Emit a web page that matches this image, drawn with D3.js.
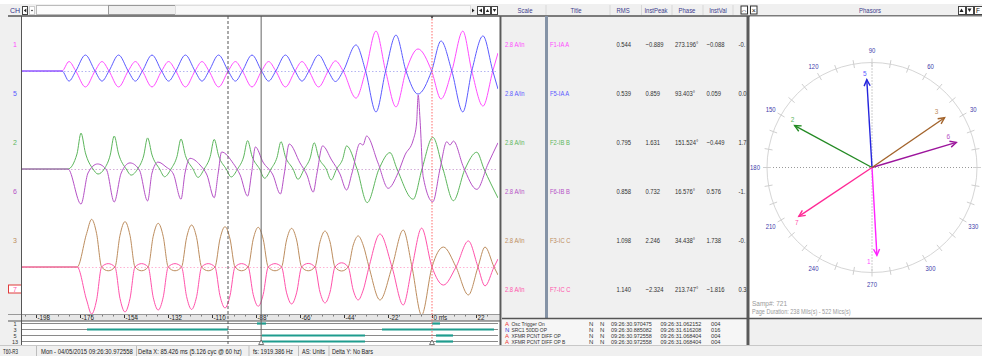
<!DOCTYPE html>
<html><head><meta charset="utf-8">
<script src="https://cdn.jsdelivr.net/npm/d3@7"></script>
<style>
html,body{margin:0;padding:0;background:#fff;overflow:hidden}
svg{display:block;font-family:"Liberation Sans",Arial,sans-serif}
</style></head><body>
<svg id="c" width="982" height="356"></svg>
<script>
// ---------- channel table ----------
const chNames    = ["1","5","2","6","3","7"];
const chTitles   = ["F1-IA A","F5-IA A","F2-IB B","F6-IB B","F3-IC C","F7-IC C"];
const chScales   = ["2.8 A/in","2.8 A/in","2.8 A/in","2.8 A/in","2.8 A/in","2.8 A/in"];
const chRms      = [0.544,0.539,0.795,0.858,1.098,1.140];
const chInstPeak = [-0.889,0.859,1.631,0.732,2.246,-2.324];
const chPhase    = [273.196,93.403,151.524,16.576,34.438,213.747];
const chInstVal  = [-0.088,0.059,-0.449,0.576,1.738,-1.816];
const chNextCol  = ["-0.","0.0","1.7","-1.","-0.","0.3"];

// ---------- analog traces: [time ms, amps] ----------
const ch5Wave = [[-205,0],[-185,0],[-181.5,-0.48],[-178.1,0],
 [-173.3,0.76],[-168.5,0],[-165.0,-0.48],[-161.5,0],
 [-156.7,0.76],[-151.9,0],[-148.3,-0.48],[-144.8,0],
 [-140.0,0.76],[-135.2,0],[-131.7,-0.48],[-128.1,0],
 [-123.3,0.76],[-118.5,0],[-115.0,-0.48],[-111.5,0],
 [-106.7,0.76],[-101.9,0],[-98.3,-0.48],[-94.8,0],
 [-90.0,0.76],[-85.2,0],[-81.7,-0.48],[-78.1,0],
 [-73.3,0.76],[-68.5,0],[-65.0,-0.48],[-61.5,0],
 [-56.7,0.76],[-51.9,0],[-48.3,-0.50],[-44.4,0],
 [-38.0,1.24],[-33.2,0],[-28.0,-1.95],[-23.2,0],[-18.0,1.71],[-13.0,0],[-7.0,-1.10],[-0.2,0],
 [4.5,1.43],[9.9,0],[15.4,-1.95],[19.9,0],[25.5,1.67],[30.4,0],[33,-0.86]];
const ch1Wave = [[-205,0],[-185,0],[-181.5,0.45],[-178.1,0],
 [-173.3,-0.76],[-168.5,0],[-165.0,0.45],[-161.5,0],
 [-156.7,-0.76],[-151.9,0],[-148.3,0.45],[-144.8,0],
 [-140.0,-0.76],[-135.2,0],[-131.7,0.45],[-128.1,0],
 [-123.3,-0.76],[-118.5,0],[-115.0,0.45],[-111.5,0],
 [-106.7,-0.76],[-101.9,0],[-98.3,0.45],[-94.8,0],
 [-90.0,-0.76],[-85.2,0],[-81.7,0.45],[-78.1,0],
 [-73.3,-0.76],[-68.5,0],[-65.0,0.45],[-61.5,0],
 [-56.7,-0.76],[-51.9,0],[-48.3,0.48],[-44.4,0],
 [-38.0,-1.29],[-33.2,0],[-28.0,1.90],[-23.2,0],[-18.0,-1.71],[-13.0,0],[-7.0,1.05],[-0.2,0],
 [4.5,-1.33],[9.9,0],[15.4,1.90],[19.9,0],[25.5,-1.67],[30.4,0],[33,0.86]];
const ch2Wave = [[-205,0],[-182,0],[-177.5,0.72],[-175.5,1.71],[-173.3,0.77],[-169.5,0],[-167.0,-0.24],[-163.9,0],
 [-160.9,0.66],[-158.9,1.57],[-156.7,0.71],[-152.9,0],[-150.4,-0.29],[-147.2,0],
 [-144.2,0.62],[-142.2,1.48],[-140.0,0.67],[-136.2,0],[-133.7,-0.37],[-130.5,0],
 [-127.5,0.60],[-125.5,1.43],[-123.3,0.64],[-119.5,0],[-117.0,-0.40],[-113.9,0],
 [-110.9,0.59],[-108.9,1.41],[-106.7,0.63],[-102.9,0],[-100.4,-0.38],[-97.2,0],
 [-94.2,0.57],[-92.2,1.35],[-90.0,0.61],[-86.2,0],[-83.7,-0.44],[-80.5,0],
 [-77.5,0.55],[-75.5,1.30],[-73.3,0.59],[-69.5,0],[-67.0,-0.49],[-63.9,0],
 [-60.9,0.53],[-58.9,1.25],[-56.7,0.56],[-52.9,0],[-50.4,-0.52],[-47.7,0],
 [-44.7,0.46],[-42.7,1.10],[-37.5,0],[-32.4,-1.60],[-26.5,0],[-21.0,0.78],[-17.5,0],
 [-9.4,-1.44],[-5.0,0],[0.4,1.51],[5.5,0],[10.7,-1.51],[16.5,0],[22.4,0.80],[26.0,0],[33,-1.38]];
const ch6Wave = [[-205,0],[-182,0],[-175.5,-1.67],
 [-172.0,-0.19],[-167.2,0.24],[-162.7,-0.05],[-158.9,-1.57],
 [-155.4,-0.19],[-151.0,0.29],[-146.3,-0.05],[-142.2,-1.52],
 [-140.0,-0.19],[-137.0,0.33],[-133.0,0.10],[-129.3,-0.24],[-125.5,-1.44],
 [-123.5,-0.19],[-121.0,0.51],[-116.0,0.19],[-112.5,-0.29],[-108.9,-1.37],
 [-106.9,-0.19],[-105.2,0.81],[-99.4,0.27],[-95.9,-0.29],[-92.2,-1.29],
 [-90.2,-0.19],[-88.3,1.05],[-84.5,0.33],[-79.5,-0.29],[-75.8,-1.19],
 [-73.8,-0.19],[-71.4,1.19],[-66.0,0.29],[-62.5,-0.29],[-59.4,-1.10],
 [-57.5,-0.19],[-54.7,1.10],[-50.2,0.43],[-46.0,-0.24],[-42.7,-1.00],
 [-40.0,-0.19],[-36.0,1.22],[-34.5,1.14],[-32.7,1.57],[-27.0,0.29],[-21.9,-0.92],
 [-17.0,-0.19],[-13.5,0.67],[-9.4,1.38],[-7.7,2.19],[-6.9,3.52],[-6.0,2.38],[-4.4,-0.37],
 [0.4,-1.56],[4.0,0],[7.4,1.30],[9.0,1.14],[10.7,1.33],[15.7,0.10],[22.4,-0.97],[28.0,0.24],[33,1.25]];
const ch3Wave = [[-205,0],[-177.4,0],[-172.7,1.59],[-170.2,2.27],[-167.7,1.59],[-165.2,0],[-161.9,-0.18],[-158.5,0],
 [-156.0,1.51],[-153.5,2.16],[-151.0,1.51],[-148.5,0],[-145.2,-0.18],[-141.9,0],
 [-139.4,1.46],[-136.9,2.08],[-134.4,1.46],[-131.9,0],[-128.5,-0.18],[-125.2,0],
 [-122.7,1.40],[-120.2,2.00],[-117.7,1.40],[-115.2,0],[-111.9,-0.18],[-108.5,0],
 [-106.0,1.34],[-103.5,1.92],[-101.0,1.34],[-98.5,0],[-95.2,-0.18],[-91.9,0],
 [-89.4,1.32],[-86.9,1.89],[-84.4,1.32],[-81.9,0],[-78.5,-0.18],[-75.2,0],
 [-72.7,1.29],[-70.2,1.84],[-67.7,1.29],[-65.2,0],[-61.9,-0.18],[-58.5,0],
 [-56.0,1.20],[-53.5,1.71],[-51.0,1.20],[-48.5,0],[-45.2,-0.19],[-41.9,0],
 [-39.4,1.04],[-36.9,1.48],[-34.4,1.04],[-31.5,0],
 [-26.0,-1.57],[-20.0,0],[-14.4,1.76],[-10.0,0],[-5.2,-2.29],[0,0],[5.7,0.95],[12.0,0],
 [18.2,-1.33],[23.0,0],[26.5,0.95],[31.0,0],[33,-0.38]];
const ch7Wave = [[-205,0],[-177.4,0],[-172.7,-1.57],[-170.2,-2.24],[-167.7,-1.57],[-165.2,0],[-161.9,0.16],[-158.5,0],
 [-156.0,-1.50],[-153.5,-2.14],[-151.0,-1.50],[-148.5,0],[-145.2,0.16],[-141.9,0],
 [-139.4,-1.44],[-136.9,-2.05],[-134.4,-1.44],[-131.9,0],[-128.5,0.16],[-125.2,0],
 [-122.7,-1.41],[-120.2,-2.02],[-117.7,-1.41],[-115.2,0],[-111.9,0.16],[-108.5,0],
 [-106.0,-1.37],[-103.5,-1.95],[-101.0,-1.37],[-98.5,0],[-95.2,0.16],[-91.9,0],
 [-89.4,-1.31],[-86.9,-1.87],[-84.4,-1.31],[-81.9,0],[-78.5,0.16],[-75.2,0],
 [-72.7,-1.23],[-70.2,-1.76],[-67.7,-1.23],[-65.2,0],[-61.9,0.17],[-58.5,0],
 [-56.0,-1.20],[-53.5,-1.71],[-51.0,-1.20],[-48.5,0],[-45.2,0.20],[-41.9,0],
 [-39.4,-1.10],[-36.9,-1.57],[-34.4,-1.10],[-31.5,0],
 [-26.0,1.57],[-20.0,0],[-14.4,-1.81],[-10.0,0],[-5.2,1.85],[0,0],[5.7,-0.86],[12.0,0],
 [18.2,1.24],[23.0,0],[26.5,-0.90],[31.0,0],[33,0.38]];

// ---------- time axis, cursors ----------
const timeTicks   = [-198,-176,-154,-132,-110,-88,-66,-44,-22,0,22];
const cursorTimes = {dashed:-102, solid:-85.426, trigger:0};

// ---------- digital channels ----------
const digLabels = ["1","3","5","13"];
const digOn = [
  [[-87.5,-83],[0,4]],
  [[-172.5,-102],[-25,31]],
  [[-85,-33.5],[2,10.5]],
  [[-85,-33.5],[2,10.5]]
];
const evFlags = ["A","N","A","A"];
const evNames = ["Osc Trigger On","SRC1 50DD OP","XFMR PCNT DIFF OP","XFMR PCNT DIFF OP B"];
const evStart = ["09:26:30.970475","09:26:30.885082","09:26:30.972558","09:26:30.972558"];
const evEnd   = ["09:26:31.062152","09:26:31.616208","09:26:31.068404","09:26:31.068404"];
const evCount = ["004","016","004","004"];

// ---------- phasor dial ----------
const dialLabels = [30,60,90,120,150,180,210,240,270,300,330];

// ---------- status bar ----------
const statusTexts = ["T60-R3","Mon - 04/05/2015 09:26:30.972558","Delta X: 85.426 ms  (5.126 cyc @ 60 hz)","fs:  1919.386 Hz","AS: Units","Delta Y:  No Bars"];

// ===================== drawing =====================
const traceColor  = {"1":"#ff4cff","5":"#5b5bff","2":"#5cb65c","6":"#b551c6","3":"#bd8d5e","7":"#ff52ab"};
const phasorColor = {"1":"#ff22ff","5":"#2424dd","2":"#238a23","6":"#9c149c","3":"#a3642c","7":"#ff2a96"};
const waves = {"1":ch1Wave,"5":ch5Wave,"2":ch2Wave,"6":ch6Wave,"3":ch3Wave,"7":ch7Wave};
const pairOf = {"1":0,"5":0,"2":1,"6":1,"3":2,"7":2};
const pairBase = [71,169,267];
const pairDot = ["#b4b4f2","#d5add9","#ffb3d4"];

const svg = d3.select("#c");
const txt = (g,x,y,s,opt={}) => g.append("text").attr("x",x).attr("y",y).text(s)
  .attr("font-size",opt.size||7.5).attr("fill",opt.fill||"#333").attr("text-anchor",opt.anchor||"start");
// condensed text: the panel font is a narrow one, so glyphs are scaled horizontally
const ctxt = (g,x,y,s,opt={},k=0.78,width=null) => {
  const grp = g.append("g");
  const t = txt(grp,0,0,s,opt);
  if (width) k = width / t.node().getComputedTextLength();
  grp.attr("transform",`translate(${x},${y}) scale(${k},1)`);
  return t;
};

svg.append("rect").attr("width",982).attr("height",356).attr("fill","#fff");
svg.append("rect").attr("x",0).attr("y",4).attr("width",982).attr("height",12).attr("fill","#f0f0f0");
svg.append("rect").attr("x",0).attr("y",16).attr("width",21).attr("height",329).attr("fill","#f0f0f0");
svg.append("rect").attr("x",502).attr("y",16).attr("width",246).attr("height",302).attr("fill","#f0f0f0");
svg.append("rect").attr("x",502).attr("y",318).attr("width",246).attr("height",27).attr("fill","#f6f6f6");
svg.append("rect").attr("x",750).attr("y",318).attr("width",232).attr("height",27).attr("fill","#f0f0f0");
svg.append("rect").attr("x",0).attr("y",345).attr("width",982).attr("height",11).attr("fill","#f0f0f0");

// ---- waveform pane ----
const x = d3.scaleLinear().domain([-205,33]).range([22,498]);
const plotTop = 17, plotBot = 314;
svg.append("defs").append("clipPath").attr("id","pclip")
  .append("rect").attr("x",22).attr("y",plotTop).attr("width",476).attr("height",plotBot-plotTop);
const pane = svg.append("g").attr("clip-path","url(#pclip)");

pairBase.forEach((b,i)=>{
  pane.append("line").attr("x1",22).attr("x2",498).attr("y1",b+0.5).attr("y2",b+0.5)
    .attr("stroke",pairDot[i]).attr("stroke-dasharray","1.5,2");
});
const yFor = ch => d3.scaleLinear().domain([-1,1]).range([pairBase[pairOf[ch]]+21,pairBase[pairOf[ch]]-21]);
["1","5","2","6","3","7"].forEach(ch=>{
  const y = yFor(ch);
  const line = d3.line().x(d=>x(d[0])).y(d=>y(d[1])).curve(d3.curveMonotoneX);
  pane.append("path").datum(waves[ch]).attr("d",line).attr("fill","none")
    .attr("stroke",traceColor[ch]).attr("stroke-width",1);
});

// channel labels on the left
const rowY = d3.scalePoint().domain(chNames).range([44,289]);
chNames.forEach(ch=>{
  if(ch==="7"){
    svg.append("rect").attr("x",8.5).attr("y",rowY(ch)-4).attr("width",13).attr("height",8)
      .attr("fill","#fff").attr("stroke","#e03a3a");
  }
  txt(svg,15,rowY(ch)+2.5,ch,{fill:traceColor[ch],anchor:"middle",size:7});
});

// time axis
svg.append("rect").attr("x",22).attr("y",314).attr("width",478).attr("height",7).attr("fill","#e6e6e6");
svg.append("line").attr("x1",8).attr("x2",500).attr("y1",314.5).attr("y2",314.5).attr("stroke","#999");
const minor = svg.append("g").attr("transform","translate(0,315)")
  .call(d3.axisBottom(x).tickValues(d3.range(-203.5,33,5.5)).tickSize(1.5).tickFormat(""));
minor.select(".domain").remove();
minor.selectAll("line").attr("stroke","#777");
const ax = svg.append("g").attr("transform","translate(0,315)")
  .call(d3.axisBottom(x).tickValues(timeTicks).tickSize(3).tickFormat(d=>d===0?"0 ms":d));
ax.select(".domain").remove();
ax.selectAll("line").attr("stroke","#333");
ax.selectAll("text").attr("text-anchor","start").attr("dx",1).attr("y",0).attr("dy","5.2px")
  .attr("font-size",6.3).attr("fill","#222").attr("font-family",null);
svg.append("line").attr("x1",8).attr("x2",500).attr("y1",321).attr("y2",321).attr("stroke","#555").attr("stroke-width",1.2);

// digital channels
const dY = d3.scalePoint().domain(digLabels).range([323.5,341.5]);
digLabels.forEach((lab,i)=>{
  svg.append("line").attr("x1",22).attr("x2",498).attr("y1",dY(lab)).attr("y2",dY(lab)).attr("stroke","#8a8a8a");
  digOn[i].forEach(seg=>{
    svg.append("line").attr("x1",x(seg[0])).attr("x2",x(seg[1])).attr("y1",dY(lab)).attr("y2",dY(lab))
      .attr("stroke","#1f9c8e").attr("stroke-width",2.2);
  });
  txt(svg,15,dY(lab)+2,lab,{anchor:"middle",size:5.5,fill:"#333"});
});

// cursors
svg.append("line").attr("x1",x(cursorTimes.dashed)).attr("x2",x(cursorTimes.dashed)).attr("y1",16).attr("y2",344)
  .attr("stroke","#555").attr("stroke-dasharray","3,2");
svg.append("line").attr("x1",x(cursorTimes.solid)).attr("x2",x(cursorTimes.solid)).attr("y1",16).attr("y2",344)
  .attr("stroke","#666");
svg.append("line").attr("x1",x(cursorTimes.trigger)).attr("x2",x(cursorTimes.trigger)).attr("y1",16).attr("y2",344)
  .attr("stroke","#ff6a6a").attr("stroke-dasharray","1.5,1.5");
svg.append("path").attr("d",`M${x(0)-1.5},16 L${x(0)+1.5},16 L${x(0)},19 Z`).attr("fill","#333");
[cursorTimes.solid,cursorTimes.trigger].forEach(t=>{
  svg.append("path").attr("d",`M${x(t)},340 L${x(t)+2.5},344.5 L${x(t)-2.5},344.5 Z`)
    .attr("fill","#fff").attr("stroke","#555").attr("stroke-width",0.8);
});

// frame lines of the waveform pane
svg.append("line").attr("x1",8).attr("x2",982).attr("y1",16).attr("y2",16).attr("stroke","#555").attr("stroke-width",1.5);
svg.append("line").attr("x1",21.5).attr("x2",21.5).attr("y1",16).attr("y2",345).attr("stroke","#555");
svg.append("rect").attr("x",499.5).attr("y",16).attr("width",2).attr("height",329).attr("fill","#5a5a5a");

// toolbar
txt(svg,10,12.5,"CH",{fill:"#33338a",size:7});
svg.append("rect").attr("x",22.5).attr("y",6.5).attr("width",5).attr("height",8).attr("fill","#fff").attr("stroke","#444");
svg.append("path").attr("d","M23.8,10.5 L26.3,8.5 L26.3,12.5 Z").attr("fill","#222");
svg.append("rect").attr("x",29.5).attr("y",6.5).attr("width",5).attr("height",8).attr("fill","#fff").attr("stroke","#ccc");
svg.append("circle").attr("cx",32).attr("cy",10.5).attr("r",0.8).attr("fill","#222");
svg.append("rect").attr("x",36.5).attr("y",5.5).attr("width",139).attr("height",9).attr("fill","#fcfcfc").attr("stroke","#bbb");
svg.append("rect").attr("x",108.5).attr("y",5.5).attr("width",67).attr("height",9).attr("fill","#efefef").attr("stroke","#999");
svg.append("rect").attr("x",175.5).attr("y",5.5).attr("width",295).attr("height",9).attr("fill","#f8f8f8").attr("stroke","#ddd");
svg.append("path").attr("d","M472,8.5 L474.5,10.5 L472,12.5 Z").attr("fill","#222");
[[477.5,"M479,10.5 L482,8.5 L482,12.5 Z"],[484.5,"M485.8,12 L487.5,9 L489.2,12 Z"],[491.5,"M492.8,9 L496.2,9 L494.5,12 Z"]].forEach(b=>{
  svg.append("rect").attr("x",b[0]).attr("y",6.5).attr("width",6).attr("height",8).attr("fill","#fff").attr("stroke","#444");
  svg.append("path").attr("d",b[1]).attr("fill","#222");
});

// ---- table ----
const hdr = [["Scale",525],["Title",576],["RMS",623],["InstPeak",656],["Phase",687],["InstVal",718]];
hdr.forEach(h=>ctxt(svg,h[1],12.5,h[0],{anchor:"middle",fill:"#3c3c8c",size:7},0.85));
[546,610,641.5,672,703,733].forEach(xx=>svg.append("line").attr("x1",xx).attr("x2",xx).attr("y1",5).attr("y2",15).attr("stroke","#d8d8d8"));
[[741,"⇔"],[750.5,"×"]].forEach(b=>{
  svg.append("rect").attr("x",b[0]).attr("y",6).attr("width",6.5).attr("height",8).attr("fill","#fff").attr("stroke","#333");
  txt(svg,b[0]+3.25,12.5,b[1],{anchor:"middle",size:7,fill:"#111"});
});
svg.append("rect").attr("x",545).attr("y",16).attr("width",3).attr("height",302).attr("fill","#8593a6");
svg.append("rect").attr("x",746.5).attr("y",16).attr("width",3).attr("height",329).attr("fill","#5a5a5a");
svg.append("line").attr("x1",502).attr("x2",750).attr("y1",318.5).attr("y2",318.5).attr("stroke","#555").attr("stroke-width",1.5);

const f3 = d3.format(".3f");
chNames.forEach((ch,i)=>{
  const yy = rowY(ch)+2.5;
  ctxt(svg,505,yy,chScales[i],{fill:traceColor[ch]});
  ctxt(svg,550,yy,chTitles[i],{fill:traceColor[ch]});
  ctxt(svg,616.5,yy,f3(chRms[i]));
  ctxt(svg,645.5,yy,f3(chInstPeak[i]));
  ctxt(svg,675,yy,f3(chPhase[i])+"°");
  ctxt(svg,706.5,yy,f3(chInstVal[i]));
  ctxt(svg,738.5,yy,chNextCol[i]);
});

// event list
const evY = d3.scalePoint().domain(evNames).range([326.3,343.8]);
const evFs = 6;
evNames.forEach((n,i)=>{
  const yy = evY(n);
  txt(svg,505,yy,evFlags[i],{size:evFs,fill:evFlags[i]==="A"?"#e33":"#33c"});
  ctxt(svg,511.5,yy,n,{size:evFs},0.82);
  txt(svg,589,yy,"N",{size:evFs});
  txt(svg,600,yy,"N",{size:evFs});
  ctxt(svg,611,yy,evStart[i],{size:evFs},1,41);
  ctxt(svg,660.5,yy,evEnd[i],{size:evFs},1,41);
  ctxt(svg,711,yy,evCount[i],{size:evFs},1,9.5);
});

// ---- phasor dial ----
svg.append("rect").attr("x",750).attr("y",16.5).attr("width",232).attr("height",301.5).attr("fill","#fff");
svg.append("line").attr("x1",750).attr("x2",982).attr("y1",318.5).attr("y2",318.5).attr("stroke","#555").attr("stroke-width",1.5);
ctxt(svg,870,12.5,"Phasors",{anchor:"middle",fill:"#3c3c8c",size:7},0.85);
[[958,"M959.5,12 L961.5,8.5 L963.5,12 Z"],[966,"M967.5,8.5 L971.5,8.5 L969.5,12 Z"]].forEach(b=>{
  svg.append("rect").attr("x",b[0]+0.5).attr("y",6.5).attr("width",7).attr("height",8).attr("fill","#fff").attr("stroke","#444");
  svg.append("path").attr("d",b[1]).attr("fill","#222");
});
svg.append("rect").attr("x",974.5).attr("y",6.5).attr("width",8).attr("height",8).attr("fill","#fff").attr("stroke","#444");
txt(svg,978,12.5,"F",{anchor:"middle",size:6.5,fill:"#111"});

const cx = 872, cy = 167.5, R = 105;
const ang = d => -d*Math.PI/180;
const dial = svg.append("g").attr("transform",`translate(${cx},${cy})`);
dial.append("line").attr("x1",-R).attr("x2",R).attr("stroke","#999").attr("stroke-dasharray","1,2");
dial.append("line").attr("y1",-R).attr("y2",R).attr("stroke","#999").attr("stroke-dasharray","1,2");
dial.append("circle").attr("r",R).attr("fill","none").attr("stroke","#d6d6d6");
d3.range(0,360,10).forEach(a=>{
  const c=Math.cos(ang(a)), s=Math.sin(ang(a));
  dial.append("line").attr("x1",(R-4)*c).attr("y1",(R-4)*s).attr("x2",(R+4)*c).attr("y2",(R+4)*s)
    .attr("stroke","#cfcfcf");
});
dialLabels.forEach(a=>{
  const c=Math.cos(ang(a)), s=Math.sin(ang(a));
  ctxt(dial,117*c,117*s+2.5,a,{anchor:"middle",size:7,fill:"#3c3caa"},0.85);
});
const rLen = d3.scaleLinear().domain([0,1]).range([0,88]);
chNames.forEach((ch,i)=>{
  const a = ang(chPhase[i]);
  const c = Math.cos(a), s = Math.sin(a);
  const tx = rLen(1)*c, ty = rLen(1)*s;
  const col = phasorColor[ch];
  dial.append("line").attr("x1",0).attr("y1",0).attr("x2",tx).attr("y2",ty).attr("stroke",col).attr("stroke-width",1.4);
  const hl=7, spread=0.45;
  const b1=[tx-hl*Math.cos(a-spread), ty-hl*Math.sin(a-spread)], b2=[tx-hl*Math.cos(a+spread), ty-hl*Math.sin(a+spread)];
  dial.append("path").attr("d",`M${b1} L${tx},${ty} L${b2}`).attr("fill","none").attr("stroke",col).attr("stroke-width",1.4);
  // number tag sits beside the arrow tip, towards the left and away from the axis
  const lx = tx + (c>0 ? -8 : -2), ly = ty + (s<0 ? -6 : 6);
  txt(dial,lx,ly+2.3,ch,{anchor:"middle",size:6.5,fill:traceColor[ch]});
});
txt(svg,752,305.5,"Samp#: 721",{size:6.5,fill:"#9a9a9a"});
ctxt(svg,752,314,"Page Duration: 238 Mils(s) - 522 Mics(s)",{size:6.5,fill:"#9a9a9a"},0.85);

// ---- status bar ----
svg.append("line").attr("x1",0).attr("x2",982).attr("y1",345.5).attr("y2",345.5).attr("stroke","#c8c8c8");
const sbX = [3,41,138,253,302,332];
const sbW = [15,92,104,40,23,41];
statusTexts.forEach((s,i)=>ctxt(svg,sbX[i],353.5,s,{size:7.5,fill:"#222"},1,sbW[i]));
[36,136,248.5,298,328.5].forEach(xx=>svg.append("line").attr("x1",xx+0.5).attr("x2",xx+0.5).attr("y1",346).attr("y2",356).attr("stroke","#bdbdbd"));
</script>
</body></html>
